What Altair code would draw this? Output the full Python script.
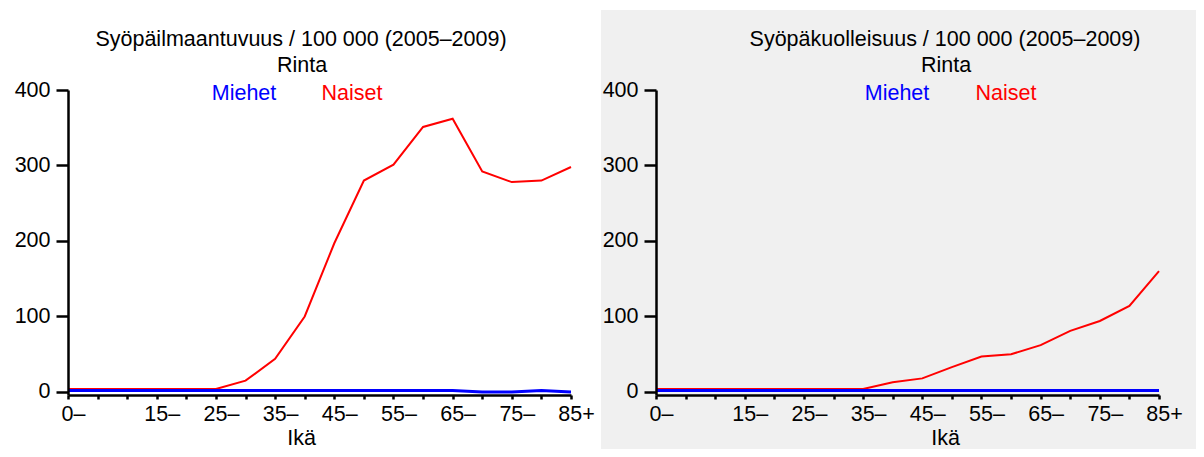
import altair as alt
import pandas as pd

# ---- data -------------------------------------------------------------
AGE_GROUPS = ['0–', '5–', '10–', '15–', '20–', '25–', '30–', '35–', '40–',
              '45–', '50–', '55–', '60–', '65–', '70–', '75–', '80–', '85+']
SHOWN_LABELS = ['0–', '15–', '25–', '35–', '45–', '55–', '65–', '75–', '85+']

SERIES = ['Miehet', 'Naiset']

INC_TITLE = 'Syöpäilmaantuvuus / 100 000 (2005–2009)'
MORT_TITLE = 'Syöpäkuolleisuus / 100 000 (2005–2009)'
SITE = 'Rinta'
X_TITLE = 'Ikä'

INC_MEN = [2, 2, 2, 2, 2, 2, 2, 2, 2, 2, 2, 2, 2, 2, 0, 0, 2, 0]
INC_WOMEN = [4, 4, 4, 4, 4, 4, 15, 44, 100, 197, 280, 301, 351, 362, 292, 278, 280, 298]
MORT_MEN = [2, 2, 2, 2, 2, 2, 2, 2, 2, 2, 2, 2, 2, 2, 2, 2, 2, 2]
MORT_WOMEN = [4, 4, 4, 4, 4, 4, 4, 4, 13, 18, 33, 47, 50, 62, 81, 94, 114, 160]

Y_TICKS = [0, 100, 200, 300, 400]

FONT = 'Liberation Sans'
FS = 21.5
BLUE = '#0000ff'
RED = '#ff0000'

label_arr = [g if g in SHOWN_LABELS else '' for g in AGE_GROUPS]
label_expr = '[' + ','.join("'" + s + "'" for s in label_arr) + '][datum.value]'


def panel(title, men, women, cx, bg, rect_box, legend_x):
    df = pd.DataFrame({'idx': list(range(len(AGE_GROUPS))), 'men': men, 'women': women})
    x = alt.X('idx:Q',
              scale=alt.Scale(domain=[0, len(AGE_GROUPS) - 1], nice=False, zero=False),
              axis=alt.Axis(values=list(range(len(AGE_GROUPS))), labelExpr=label_expr,
                            labelFlush=False, labelOverlap=False, tickSize=4,
                            labelPadding=4, labelOffset=5, zindex=2,
                            title=X_TITLE, titleX=cx, titleY=43,
                            titleBaseline='middle', titleAlign='center'))
    y_axis = alt.Axis(values=Y_TICKS, tickSize=12, labelPadding=6, title=None, zindex=2)
    y_scale = alt.Scale(domain=[-4, 400], nice=False, zero=False)

    one = pd.DataFrame({'a': [0]})
    x0, x1, y0, y1 = rect_box
    bgl = alt.Chart(one).mark_rect(color=bg).encode(
        x=alt.value(x0), x2=alt.value(x1), y=alt.value(y0), y2=alt.value(y1))

    red = alt.Chart(df).mark_line(color=RED, strokeWidth=2).encode(
        x=x, y=alt.Y('women:Q', scale=y_scale, axis=y_axis))
    blue = alt.Chart(df).mark_line(color=BLUE, strokeWidth=3).encode(
        x=x, y=alt.Y('men:Q', scale=y_scale, axis=y_axis))

    def txt(s, px, py, color='black'):
        return alt.Chart(one).mark_text(text=s, font=FONT, fontSize=FS, color=color,
                                        align='center', baseline='middle').encode(
            x=alt.value(px), y=alt.value(py))

    t1 = txt(title, cx, -50)
    t2 = txt(SITE, cx + 1, -24)
    l1 = txt(SERIES[0], legend_x[0], 4, BLUE)
    l2 = txt(SERIES[1], legend_x[1], 4, RED)
    return alt.layer(bgl, red, blue, t1, t2, l1, l2).properties(width=503, height=305)


left = panel(INC_TITLE, INC_MEN, INC_WOMEN, 233, 'white', (-60, 533, -82, 359), (176, 284))
right = panel(MORT_TITLE, MORT_MEN, MORT_WOMEN, 289, '#f0f0f0', (-55, 540, -80, 359), (241, 350))

chart = alt.hconcat(left, right, spacing=85, bounds='flush').properties(
    padding=0
).configure_view(strokeWidth=0).configure_axis(
    grid=False, domainColor='black', domainWidth=2.5, tickColor='black', tickWidth=2.5,
    labelFont=FONT, labelFontSize=FS, labelColor='black',
    titleFont=FONT, titleFontSize=FS, titleFontWeight='normal', titleColor='black'
)

chart.save('out.html', embed_options={'renderer': 'svg', 'actions': False})
